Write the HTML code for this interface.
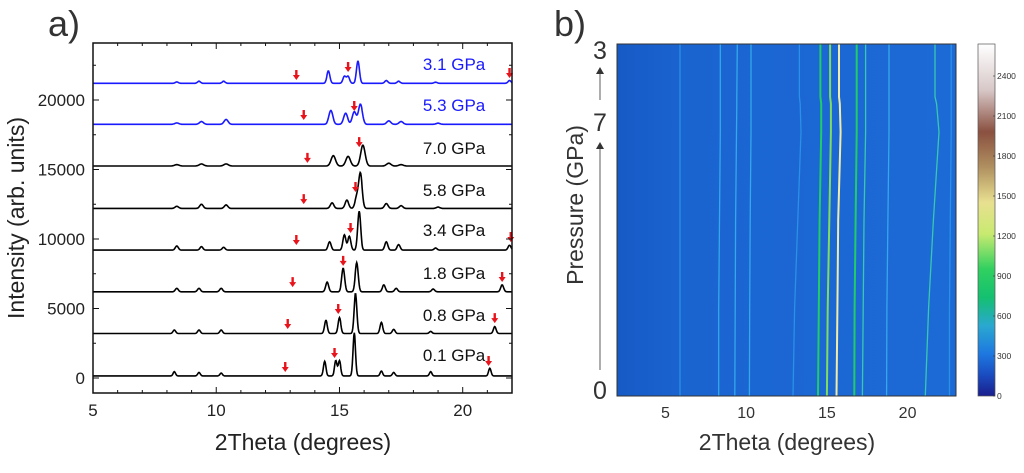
<!DOCTYPE html>
<html><head><meta charset="utf-8"><style>
body{margin:0;background:#fff;width:1024px;height:468px;overflow:hidden;font-family:"Liberation Sans",sans-serif}
svg text{font-family:"Liberation Sans",sans-serif}
</style></head><body>
<svg id="s" width="1024" height="468" viewBox="0 0 1024 468">
<defs>
<linearGradient id="cb" x1="0" y1="1" x2="0" y2="0">
<stop offset="0" stop-color="#1a1e8c"/><stop offset="0.06" stop-color="#1a4cc0"/><stop offset="0.12" stop-color="#1e78e0"/>
<stop offset="0.2" stop-color="#2aa8d0"/><stop offset="0.28" stop-color="#14c070"/><stop offset="0.36" stop-color="#30d060"/>
<stop offset="0.46" stop-color="#c8ea70"/><stop offset="0.55" stop-color="#e8e090"/><stop offset="0.65" stop-color="#b09060"/>
<stop offset="0.75" stop-color="#8a5040"/><stop offset="0.87" stop-color="#d8c8c8"/><stop offset="1" stop-color="#ffffff"/>
</linearGradient>
<linearGradient id="bg" x1="0" y1="0" x2="1" y2="0">
<stop offset="0" stop-color="#175ac6"/><stop offset="0.2" stop-color="#1a64d0"/><stop offset="1" stop-color="#1c6ad6"/>
</linearGradient>
</defs>
<g id="left"></g><g id="right"></g>
</svg>
<script>
// ---- Panel a data ----
const pressures = ["0.1 GPa","0.8 GPa","1.8 GPa","3.4 GPa","5.8 GPa","7.0 GPa","5.3 GPa","3.1 GPa"];
const traceColors = ["#000","#000","#000","#000","#000","#000","#1a1aff","#1a1aff"];
const baselines = [150,3200,6200,9200,12200,15250,18250,21200];
const peakWidths = [0.05,0.055,0.06,0.06,0.07,0.09,0.08,0.06];
const peakPos = [
 [8.3,9.3,10.2,14.4,14.85,15.0,15.6,16.7,17.2,18.7,21.1],
 [8.3,9.3,10.2,14.45,15.0,15.65,16.7,17.2,18.7,21.3],
 [8.4,9.3,10.2,14.5,15.15,15.7,16.8,17.3,18.8,21.6],
 [8.4,9.4,10.3,14.6,15.2,15.4,15.8,16.9,17.4,18.9,21.9],
 [8.4,9.4,10.4,14.7,15.3,15.7,15.85,16.9,17.5,19.0],
 [8.4,9.4,10.4,14.75,15.35,15.95,17.0,17.5],
 [8.4,9.4,10.4,14.65,15.25,15.6,15.85,17.0,17.5,19.0],
 [8.4,9.3,10.3,14.55,15.2,15.35,15.75,16.9,17.4,18.9,21.9]
];
const peakHeights = [
 [300,250,200,1050,1100,1100,3100,350,250,300,550],
 [250,250,250,950,1150,2900,800,300,150,500],
 [250,250,250,700,1700,2100,500,250,200,500],
 [300,250,200,600,1100,1000,2800,600,400,150,350],
 [150,300,250,400,600,800,2500,350,200,100],
 [100,150,150,750,700,1500,200,100],
 [100,200,350,1000,800,900,1450,250,200,80],
 [100,150,150,900,500,500,1600,200,150,80,200]
];
const arrowX = [[12.8,14.8,21.05],[12.9,14.95,21.3],[13.1,15.15,21.6],[13.25,15.45,21.95],[13.55,15.65],[13.7,15.8],[13.55,15.6],[13.25,15.35,21.9]];
const arrowY = [[720,1730,1150],[3810,4890,4240],[6830,8350,7190],[9860,10720,10070],[12800,13670],[15760,16900],[18850,19500],[21730,22300,21870]];
const labelY = [1650,4530,7550,10650,13520,16550,19640,22590];
const xTicksA = [5,10,15,20];
const yTicksA = [0,5000,10000,15000,20000];

const NS="http://www.w3.org/2000/svg";
function mk(tag,attrs,parent){const e=document.createElementNS(NS,tag);for(const k in attrs)e.setAttribute(k,attrs[k]);parent.appendChild(e);return e;}
const L=document.getElementById('left');
const ax={x0:93,x1:512,y0:43,y1:393};
const xA=v=>ax.x0+(v-5)/(22-5)*(ax.x1-ax.x0);
const yA=v=>378-(v/20000)*278;

pressures.forEach((p,i)=>{
 let d="";
 for(let x=5;x<=22.0001;x+=0.02){
  let v=baselines[i];
  peakPos[i].forEach((pp,j)=>{const w=peakWidths[i];v+=peakHeights[i][j]*Math.exp(-0.5*((x-pp)/w)**2);});
  d+=(d?"L":"M")+xA(x).toFixed(1)+","+yA(v).toFixed(1);
 }
 const t=mk('path',{d:d,fill:"none",stroke:traceColors[i],"stroke-width":1.6},L);
 
 
 const lb=mk('text',{x:xA(19.65),y:yA(labelY[i])+6,"font-size":17,"text-anchor":"middle",fill:traceColors[i]==="#000"?"#111":"#1a1aff"},L);
 lb.textContent=p;
 
 
 arrowX[i].forEach((ux,j)=>{
  const cx=xA(ux),cy=yA(arrowY[i][j]);
  const a=mk('path',{d:`M${cx-1.2},${cy-6}h2.4v5h2.3l-3.5,5l-3.5,-5h2.3z`,fill:"#e8141c"},L);
  
  
 });
});
const fr=mk('rect',{x:ax.x0,y:ax.y0,width:ax.x1-ax.x0,height:ax.y1-ax.y0,fill:"none",stroke:"#111","stroke-width":1.5},L);


for(let v=5;v<=22;v+=1){const big=v%5===0;const len=big?6:3;
 mk('line',{x1:xA(v),x2:xA(v),y1:ax.y1,y2:ax.y1-len,stroke:"#111","stroke-width":1},L);
 mk('line',{x1:xA(v),x2:xA(v),y1:ax.y0,y2:ax.y0+len,stroke:"#111","stroke-width":1},L);}
for(let v=0;v<=22500;v+=2500){const big=v%5000===0;const len=big?6:3;
 mk('line',{x1:ax.x0,x2:ax.x0+len,y1:yA(v),y2:yA(v),stroke:"#111","stroke-width":1},L);
 mk('line',{x1:ax.x1,x2:ax.x1-len,y1:yA(v),y2:yA(v),stroke:"#111","stroke-width":1},L);}
xTicksA.forEach(v=>{const t=mk('text',{x:xA(v),y:416,"font-size":17,"text-anchor":"middle",fill:"#222"},L);t.textContent=v;
 
 });
yTicksA.forEach(v=>{const t=mk('text',{x:85,y:yA(v)+6,"font-size":17,"text-anchor":"end",fill:"#222"},L);t.textContent=v;
 
 });
let t=mk('text',{x:303,y:450,"font-size":23,"text-anchor":"middle",fill:"#222"},L);t.textContent="2Theta (degrees)";


t=mk('text',{x:0,y:0,"font-size":23,"text-anchor":"middle",fill:"#222",transform:"translate(24,218) rotate(-90)"},L);t.textContent="Intensity (arb. units)";


t=mk('text',{x:48,y:36,"font-size":36,fill:"#333"},L);t.textContent="a)";



// ---- Panel b ----
const R=document.getElementById('right');
const bx={x0:617,x1:956,y0:44,y1:396};
const lineFrac = [0,0.25,0.5,0.75,0.83,0.85,1];
const linePos = [
 [5.9,5.9,5.9,5.9,5.9,5.9,5.9],
 [8.3,8.3,8.35,8.4,8.4,8.4,8.4],
 [9.3,9.32,9.35,9.4,9.42,9.42,9.45],
 [10.2,10.22,10.25,10.3,10.3,10.3,10.3],
 [12.9,13.0,13.2,13.4,13.35,13.3,13.3],
 [14.45,14.5,14.55,14.65,14.65,14.6,14.6],
 [15.0,15.05,15.15,15.25,15.25,15.2,15.2],
 [15.6,15.65,15.7,15.85,15.8,15.75,15.75],
 [16.7,16.72,16.78,16.85,16.85,16.85,16.85],
 [17.2,17.25,17.3,17.4,17.4,17.4,17.4],
 [18.7,18.72,18.78,18.85,18.85,18.85,18.85],
 [21.1,21.3,21.6,21.95,21.8,21.7,21.7],
 [22.6,22.6,22.65,22.7,22.7,22.7,22.7]
];
const lineIntensity = [350,420,450,450,300,900,1000,1500,800,650,450,650,350];
const cbTicks = [0,300,600,900,1200,1500,1800,2100,2400];
const xTicksB = [5,10,15,20];
const xB=v=>bx.x0+(v-2)/(23-2)*(bx.x1-bx.x0);
const yB=f=>bx.y1-f*(bx.y1-bx.y0);
function icol(v){const s=[[0,"#1a1e8c"],[300,"#2a90e8"],[400,"#34a8ec"],[600,"#38c8b0"],[800,"#20cc68"],[950,"#80dc60"],[1200,"#d8ec80"],[1400,"#f0eca8"],[1800,"#b08a5a"],[2100,"#8a5040"],[2600,"#ffffff"]];
 for(let i=s.length-1;i>=0;i--)if(v>=s[i][0])return s[i][1];return s[0][1];}
const hb=mk('rect',{x:bx.x0,y:bx.y0,width:bx.x1-bx.x0,height:bx.y1-bx.y0,fill:"url(#bg)"},R);


linePos.forEach((ps,i)=>{
 let d="";ps.forEach((p,j)=>{d+=(j?"L":"M")+xB(p).toFixed(1)+","+yB(lineFrac[j]).toFixed(1);});
 const w=lineIntensity[i]>=800?2:1.3;
 const e=mk('path',{d:d,fill:"none",stroke:icol(lineIntensity[i]),"stroke-width":w,"stroke-linejoin":"round"},R);
 
 
});
const fb=mk('rect',{x:bx.x0,y:bx.y0,width:bx.x1-bx.x0,height:bx.y1-bx.y0,fill:"none",stroke:"#333","stroke-width":1},R);


xTicksB.forEach(v=>{const e=mk('text',{x:xB(v),y:418,"font-size":16,"text-anchor":"middle",fill:"#333"},R);e.textContent=v;
 
 });
[["3",50],["7",122],["0",390]].forEach(([s,y])=>{const e=mk('text',{x:600,y:y+9,"font-size":25,"text-anchor":"middle",fill:"#333"},R);e.textContent=s;
 
 });
[[370,142],[100,67]].forEach(([a,b])=>{
 mk('line',{x1:600,x2:600,y1:a,y2:b+5,stroke:"#333","stroke-width":0.8},R);
 const e=mk('path',{d:`M596,${b+7}L600,${b}L604,${b+7}z`,fill:"#333"},R);
 
 });
t=mk('text',{x:0,y:0,"font-size":23,"text-anchor":"middle",fill:"#333",transform:"translate(583,205) rotate(-90)"},R);t.textContent="Pressure (GPa)";


t=mk('text',{x:787,y:450,"font-size":23,"text-anchor":"middle",fill:"#333"},R);t.textContent="2Theta (degrees)";


t=mk('text',{x:554,y:36,"font-size":36,fill:"#333"},R);t.textContent="b)";


const cb=mk('rect',{x:978,y:44,width:17,height:352,fill:"url(#cb)",stroke:"#555","stroke-width":0.7},R);


const yC=v=>396-v/2640*352;
cbTicks.forEach(v=>{mk('line',{x1:993,x2:995,y1:yC(v),y2:yC(v),stroke:"#333","stroke-width":0.6},R);
 const e=mk('text',{x:997,y:yC(v)+3,"font-size":8.5,fill:"#333"},R);e.textContent=v;
 
 });
</script>
</body></html>
